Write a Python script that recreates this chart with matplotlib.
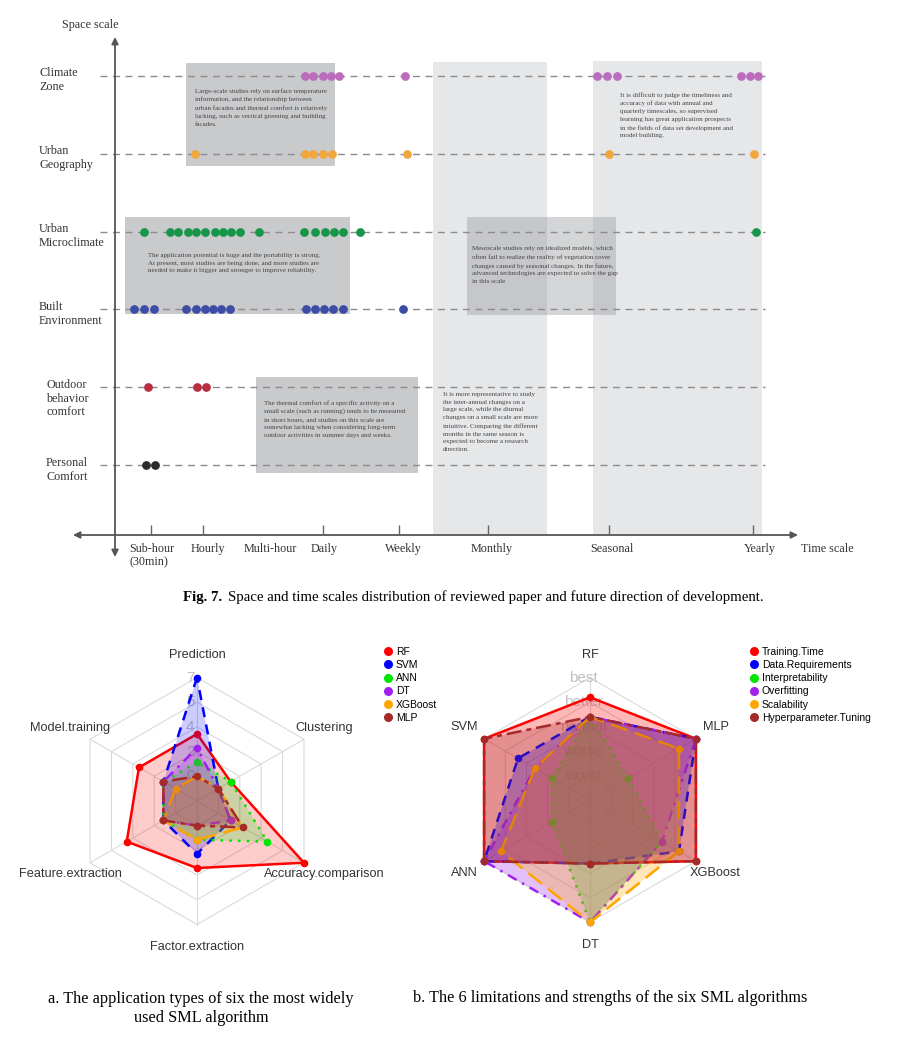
import numpy as np
import matplotlib
matplotlib.use("Agg")
import matplotlib.pyplot as plt
from matplotlib.patches import Rectangle
from matplotlib.lines import Line2D

W, H = 921, 1047

# ---------------- Fig. 7 data: space scale rows (bottom -> top) ----------------
space_scales = ["Personal\nComfort", "Outdoor\nbehavior\ncomfort", "Built\nEnvironment",
                "Urban\nMicroclimate", "Urban\nGeography", "Climate\nZone"]
time_labels = ["Sub-hour\n(30min)", "Hourly", "Multi-hour", "Daily", "Weekly",
               "Monthly", "Seasonal", "Yearly"]
time_label_pos = [129, 208, 270, 324, 403, 492, 612, 760]
time_tick_pos = [150.7, 202.7, 322.7, 399.3, 488.3, 609, 753.3]

# position of every reviewed paper along the time axis, one list per row
personal_x = [146.3, 155]
outdoor_x = [148.3, 197, 205.7]
built_x = [134.3, 144.3, 154.3, 186.3, 195.7, 204.7, 213, 221.3, 229.7,
           306, 315.3, 324, 333, 342.7, 403.3]
micro_x = [144, 169.7, 178.3, 187.7, 195.7, 205.3, 214.7, 223, 231.3, 239.7, 259,
           304.3, 315.3, 325.3, 334, 343, 360, 755.7]
geo_x = [195.3, 304.7, 313.3, 322.7, 331.7, 407, 609, 754.3]
climate_x = [304.7, 313.3, 322.7, 331, 339.3, 405, 597, 607.3, 617.3, 741, 749.7, 758.3]
row_points = [personal_x, outdoor_x, built_x, micro_x, geo_x, climate_x]
row_colors = ["#2b2b2b", "#b82d40", "#3d4ca4", "#17964a", "#f1a73d", "#bb6cbd"]

notes = [
    "Large-scale studies rely on surface temperature\ninformation, and the relationship between\n"
    "urban facades and thermal comfort is relatively\nlacking, such as vertical greening and building\nfacades.",
    "The application potential is huge and the portability is strong.\nAt present, most studies are being done, "
    "and more studies are\nneeded to make it bigger and stronger to improve reliability.",
    "The thermal comfort of a specific activity on a\nsmall scale (such as running) tends to be measured\n"
    "in short hours, and studies on this scale are\nsomewhat lacking when considering long-term\n"
    "outdoor activities in summer days and weeks.",
    "It is more representative to study\nthe inter-annual changes on a\nlarge scale, while the diurnal\n"
    "changes on a small scale are more\nintuitive. Comparing the different\nmonths in the same season is\n"
    "expected to become a research\ndirection.",
    "It is difficult to judge the timeliness and\naccuracy of data with annual and\nquarterly timescales, so supervised\n"
    "learning has great application prospects\nin the fields of data set development and\nmodel building.",
    "Mesoscale studies rely on idealized models, which\noften fail to realize the reality of vegetation cover\n"
    "changes caused by seasonal changes. In the future,\nadvanced technologies are expected to solve the gap\nin this scale",
]

# ---------------- radar a: application types ----------------
app_types = ["Prediction", "Model.training", "Feature.extraction", "Factor.extraction",
             "Accuracy.comparison", "Clustering"]
rf_a = [3, 3, 4, 3, 7, 1]
svm_a = [7, 1, 1, 2, 1, 0]
ann_a = [1, 1, 1, 1, 4, 1]
dt_a = [2, 1, 1, 0, 1, 0]
xgb_a = [0, 0, 1, 1, 2, 0]
mlp_a = [0, 1, 1, 0, 2, 0]
algos = ["RF", "SVM", "ANN", "DT", "XGBoost", "MLP"]
ticks_a = ["0", "2", "4", "5", "7"]

# ---------------- radar b: limitations and strengths ----------------
criteria = ["Training.Time", "Data.Requirements", "Interpretability", "Overfitting",
            "Scalability", "Hyperparameter.Tuning"]
training_time = [4, 5, 5, 2, 5, 5]
data_req = [3, 3, 5, 2, 4, 5]
interpretability = [3, 1, 1, 5, 3, 1]
overfitting = [3, 2, 5, 5, 3, 5]
scalability = [3, 2, 4, 5, 4, 4]
hyper_tuning = [3, 5, 5, 2, 5, 5]
ticks_b = ["worst", "worse", "normal", "better", "best"]

series_colors = ["#ff0000", "#0000ff", "#00e600", "#a020f0", "#ffa500", "#a52a2a"]
series_ls = ["-", (0, (4, 3)), (0, (1, 2.5)), (0, (1, 2.5, 4, 2.5)), (0, (7, 3)), (0, (2, 2, 6, 2))]

serif = ["Liberation Serif", "DejaVu Serif"]
sans = ["Liberation Sans", "DejaVu Sans"]

fig = plt.figure(figsize=(W / 100, H / 100), dpi=100)

# ================= top chart =================
TOP_H = 575
ROW0, ROWGAP = 465.3, 77.92          # pixel row of first category and spacing


def yp(px):
    return (ROW0 - px) / ROWGAP


ax = fig.add_axes([0, 1 - TOP_H / H, 1, TOP_H / H])
ax.set_xlim(0, W)
ax.set_ylim(yp(TOP_H), yp(0))
ax.axis("off")

# shaded areas
dark = "#c9cacc"
light = "#e6e7e9"
for x0, y0, x1, y1, c, a in [(433.3, 62, 546.7, 535, light, 1), (593, 61, 761.7, 535, light, 1),
                             (185.7, 62.7, 334.7, 165.7, dark, 1), (125, 217, 350, 314.3, dark, 1),
                             (256, 376.7, 417.7, 472.7, dark, 1), (467.3, 217, 616, 315, "#a0a2a6", 0.45)]:
    ax.add_patch(Rectangle((x0, yp(y1)), x1 - x0, yp(y0) - yp(y1), facecolor=c, alpha=a,
                           edgecolor="none", zorder=0))

for (x, ytop), txt in zip([(195, 88), (148, 253), (263.7, 400), (442.7, 392), (620, 92), (472.3, 246)], notes):
    ax.text(x, yp(ytop), txt, fontsize=5, family=serif, color="#444444", va="top", ha="left",
            linespacing=1.68, zorder=1)

# dashed guide lines and papers
for i, (xs, c) in enumerate(zip(row_points, row_colors)):
    ax.plot([100, 765], [i, i], color="#8c8c8c", lw=1, ls=(0, (5, 4)), zorder=2)
    ax.plot(xs, [i] * len(xs), "o", color=c, ms=6.3, mew=0, zorder=3)
    ax.text(46 if i < 2 else 39, i + 8.3 / ROWGAP, space_scales[i], fontsize=8.7, family=serif,
            color="#333333", va="top", ha="left", linespacing=1.17)

# axes with arrows
ax.annotate("", xy=(798, yp(535)), xytext=(73, yp(535)),
            arrowprops=dict(arrowstyle="<|-|>", color="#555555", lw=1.3, mutation_scale=10,
                            shrinkA=0, shrinkB=0), zorder=4)
ax.annotate("", xy=(115, yp(37)), xytext=(115, yp(557)),
            arrowprops=dict(arrowstyle="<|-|>", color="#555555", lw=1.3, mutation_scale=10,
                            shrinkA=0, shrinkB=0), zorder=4)
ax.vlines(time_tick_pos, yp(535), yp(525), color="#666666", lw=1, zorder=4)
for x, lab in zip(time_label_pos, time_labels):
    ax.text(x, yp(543), lab, fontsize=8.7, family=serif, color="#333333", va="top",
            ha="left" if "\n" in lab else "center", linespacing=1.17)
ax.text(827, yp(543), "Time scale", fontsize=8.7, family=serif, color="#333333", va="top", ha="center")
ax.text(62, yp(25), "Space scale", fontsize=8.7, family=serif, color="#333333", va="center", ha="left")

fig.text(183 / W, 1 - 597 / H, "Fig. 7.", fontsize=10.7, family=serif, weight="bold", va="center")
fig.text(228 / W, 1 - 597 / H, "Space and time scales distribution of reviewed paper and future direction of development.",
         fontsize=10.7, family=serif, va="center")


# ================= radar charts =================
def radar(rect_px, center, unit, axis_names, series, names, vmax, tick_labels, alpha, legend_x):
    x0, y0, x1, y1 = rect_px
    cx, cy = center
    rax = fig.add_axes([x0 / W, 1 - y1 / H, (x1 - x0) / W, (y1 - y0) / H])
    rax.set_xlim((x0 - cx) / unit, (x1 - cx) / unit)
    rax.set_ylim((cy - y1) / unit, (cy - y0) / unit)
    rax.axis("off")
    n = len(axis_names)
    ang = np.pi / 2 + np.arange(n) * 2 * np.pi / n
    # hexagonal grid
    for ring in range(1, 6):
        rax.plot(np.append(ring * np.cos(ang), ring * np.cos(ang[0])),
                 np.append(ring * np.sin(ang), ring * np.sin(ang[0])), color="#dadada", lw=0.8, zorder=1)
    for a in ang:
        rax.plot([0, 5 * np.cos(a)], [0, 5 * np.sin(a)], color="#dadada", lw=0.8, zorder=1)
    for ring, lab in enumerate(tick_labels, start=1):
        rax.text(-0.27, ring, lab, fontsize=11, family=sans, color="#c0c0c0", ha="center",
                 va="center", zorder=1)
    for a, lab in zip(ang, axis_names):
        rax.text(5.93 * np.cos(a), 5.93 * np.sin(a), lab, fontsize=9.2, family=sans, color="#333333",
                 ha="center", va="center")
    for k, vals in enumerate(series):
        r = 1 + 4 * np.asarray(vals, float) / vmax
        xs, ys = r * np.cos(ang), r * np.sin(ang)
        z = 2 + 2 * k
        rax.fill(xs, ys, color=series_colors[k], alpha=alpha, lw=0, zorder=z)
        rax.plot(np.append(xs, xs[0]), np.append(ys, ys[0]), color=series_colors[k], lw=1.8,
                 ls=series_ls[k], zorder=z + 0.5)
        rax.plot(xs, ys, "o", color=series_colors[k], ms=5.5, mew=0, zorder=z + 0.6)
    handles = [Line2D([], [], ls="none", marker="o", ms=6.5, mew=0, color=c) for c in series_colors]
    rax.legend(handles, names, loc="upper left", bbox_to_anchor=(legend_x / W, 1 - 647 / H),
               bbox_transform=fig.transFigure, frameon=False, handlelength=0.8,
               handletextpad=0.35, borderpad=0, borderaxespad=0, labelspacing=0.3,
               prop={"family": sans, "size": 7.5})
    return rax


radar((0, 625, 440, 965), (197, 801), 24.7, app_types,
      [rf_a, svm_a, ann_a, dt_a, xgb_a, mlp_a], algos, 7, ticks_a, 0.2, 384)
radar((430, 625, 921, 965), (590, 800), 24.46, algos,
      [training_time, data_req, interpretability, overfitting, scalability, hyper_tuning],
      criteria, 5, ticks_b, 0.28, 750)

fig.text(201 / W, 1 - 1008.5 / H, "a. The application types of six the most widely\nused SML algorithm",
         fontsize=11.7, family=serif, ha="center", va="center", linespacing=1.3)
fig.text(413 / W, 1 - 998 / H, "b. The 6 limitations and strengths of the six SML algorithms",
         fontsize=11.7, family=serif, ha="left", va="center")

fig.savefig("out.png", dpi=100)
